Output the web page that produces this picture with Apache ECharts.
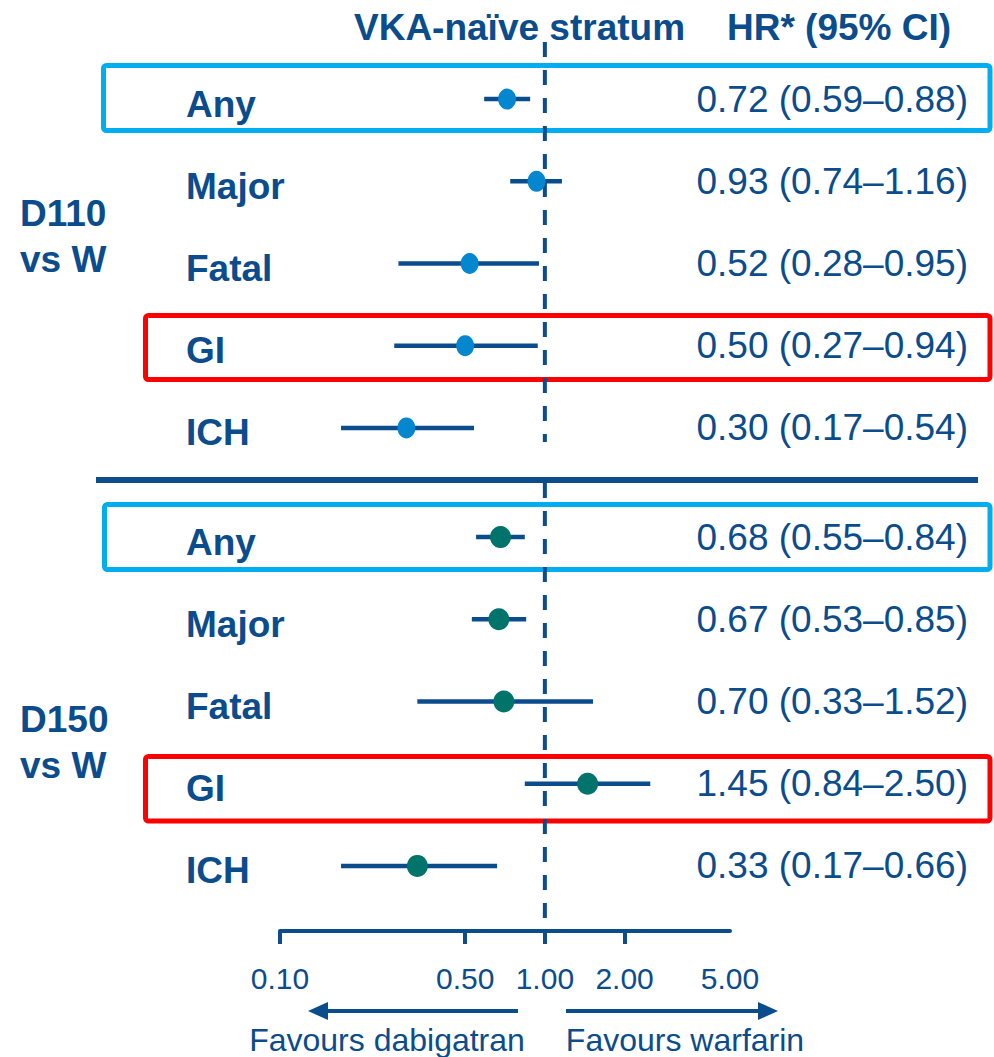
<!DOCTYPE html>
<html>
<head>
<meta charset="utf-8">
<script src="https://cdn.jsdelivr.net/npm/echarts@6/dist/echarts.min.js"></script>
<style>
html,body{margin:0;padding:0;background:#fff;}
#chart{width:994px;height:1057px;}
</style>
</head>
<body>
<div id="chart"></div>
<script>
// ---- data ----
const categories = ['Any', 'Major', 'Fatal', 'GI', 'ICH'];
const hrD110 = [0.72, 0.93, 0.52, 0.50, 0.30];
const loD110 = [0.59, 0.74, 0.28, 0.27, 0.17];
const hiD110 = [0.88, 1.16, 0.95, 0.94, 0.54];
const hrD150 = [0.68, 0.67, 0.70, 1.45, 0.33];
const loD150 = [0.55, 0.53, 0.33, 0.84, 0.17];
const hiD150 = [0.84, 0.85, 1.52, 2.50, 0.66];
const tickValues = [0.1, 0.5, 1, 2, 5];
const tickMarks = [0.1, 0.5, 1, 2];
const groupLabels = ['D110\nvs W', 'D150\nvs W'];
const headerLeft = 'VKA-naïve stratum';
const headerRight = 'HR* (95% CI)';
const favourLeft = 'Favours dabigatran';
const favourRight = 'Favours warfarin';

// ---- styling ----
const DARK = '#0B4C8C';
const BLUE = '#0487CF';
const TEAL = '#00746B';
const CYAN = '#00AEEF';
const RED = '#FF0000';
const FONT = '"Liberation Sans", Arial, sans-serif';

const fmt = (h, l, u) => h.toFixed(2) + ' (' + l.toFixed(2) + '\u2013' + u.toFixed(2) + ')';
const hrText110 = hrD110.map((v, i) => fmt(v, loD110[i], hiD110[i]));
const hrText150 = hrD150.map((v, i) => fmt(v, loD150[i], hiD150[i]));

const chart = echarts.init(document.getElementById('chart'), null, {renderer: 'svg'});

function ciItem(params, api) {
  const y = api.value(2);
  const a = api.coord([api.value(0), y]);
  const b = api.coord([api.value(1), y]);
  return {type: 'line', shape: {x1: a[0], y1: a[1], x2: b[0], y2: b[1]},
          style: {stroke: DARK, lineWidth: 4.5}};
}
function refItem(top, bottom) {
  return function (params, api) {
    const x = api.coord([api.value(0), 0])[0];
    const cs = params.coordSys;
    return {type: 'line', shape: {x1: x, y1: cs.y + top, x2: x, y2: cs.y + cs.height + bottom},
            style: {stroke: DARK, lineWidth: 4, lineDash: [15, 13]}};
  };
}

const leftLabel = {interval: 0, align: 'left', margin: 94, fontSize: 37, fontWeight: 'bold',
                   color: DARK, fontFamily: FONT, verticalAlign: 'top', lineHeight: 10};
const rightLabel = {interval: 0, align: 'right', margin: 238, fontSize: 37,
                    color: DARK, fontFamily: FONT};
const baseY = {type: 'category', inverse: true, axisLine: {show: false}, axisTick: {show: false}, splitLine: {show: false}};

const option = {
  backgroundColor: '#fff',
  animation: false,
  grid: [
    {left: 280, right: 264, top: 58, height: 411},
    {left: 280, right: 264, top: 496, height: 411}
  ],
  xAxis: [
    {gridIndex: 0, type: 'log', logBase: 10, min: 0.1, max: 5, show: false},
    {gridIndex: 1, type: 'log', logBase: 10, min: 0.1, max: 5, offset: 24,
     axisLine: {show: true, onZero: false, lineStyle: {color: DARK, width: 4}},
     axisTick: {show: true, customValues: tickMarks, length: 13, lineStyle: {color: DARK, width: 4}},
     axisLabel: {customValues: tickValues, formatter: v => Number(v).toFixed(2), fontSize: 30,
                 color: DARK, fontFamily: FONT, margin: 32},
     splitLine: {show: false}, minorTick: {show: false}}
  ],
  yAxis: [
    Object.assign({}, baseY, {gridIndex: 0, data: categories, axisLabel: leftLabel}),
    Object.assign({}, baseY, {gridIndex: 0, position: 'right', data: hrText110, axisLabel: rightLabel}),
    Object.assign({}, baseY, {gridIndex: 1, data: categories, axisLabel: leftLabel}),
    Object.assign({}, baseY, {gridIndex: 1, position: 'right', data: hrText150, axisLabel: rightLabel})
  ],
  series: [
    {type: 'custom', name: 'ref1', xAxisIndex: 0, yAxisIndex: 0, data: [[1, 0]], encode: {x: 0, y: 1},
     renderItem: refItem(-16, -27), z: 1, silent: true},
    {type: 'custom', name: 'ref2', xAxisIndex: 1, yAxisIndex: 2, data: [[1, 0]], encode: {x: 0, y: 1},
     renderItem: refItem(-13, 24), z: 1, silent: true},
    {type: 'custom', name: 'CI D110', xAxisIndex: 0, yAxisIndex: 0,
     data: categories.map((c, i) => [loD110[i], hiD110[i], i]), encode: {x: [0, 1], y: 2},
     renderItem: ciItem, z: 2},
    {type: 'custom', name: 'CI D150', xAxisIndex: 1, yAxisIndex: 2,
     data: categories.map((c, i) => [loD150[i], hiD150[i], i]), encode: {x: [0, 1], y: 2},
     renderItem: ciItem, z: 2},
    {type: 'scatter', name: 'D110 vs W', xAxisIndex: 0, yAxisIndex: 0,
     data: categories.map((c, i) => [hrD110[i], i]), symbol: 'circle', symbolSize: [18, 21],
     itemStyle: {color: BLUE, opacity: 1}, z: 3},
    {type: 'scatter', name: 'D150 vs W', xAxisIndex: 1, yAxisIndex: 2,
     data: categories.map((c, i) => [hrD150[i], i]), symbol: 'circle', symbolSize: [21, 22],
     itemStyle: {color: TEAL, opacity: 1}, z: 3}
  ],
  graphic: [
    {type: 'text', left: 354, top: 9, style: {text: headerLeft, font: 'bold 37px ' + FONT, fill: DARK}},
    {type: 'text', left: 727, top: 9, style: {text: headerRight, font: 'bold 37px ' + FONT, fill: DARK}},
    {type: 'text', x: 20, y: 236, style: {text: groupLabels[0], font: 'bold 37px ' + FONT, fill: DARK,
      lineHeight: 46, verticalAlign: 'middle', align: 'left'}},
    {type: 'text', x: 20, y: 742, style: {text: groupLabels[1], font: 'bold 37px ' + FONT, fill: DARK,
      lineHeight: 46, verticalAlign: 'middle', align: 'left'}},
    {type: 'rect', shape: {x: 103.5, y: 65.5, width: 886.5, height: 65, r: 3},
     style: {fill: 'none', stroke: CYAN, lineWidth: 5}},
    {type: 'rect', shape: {x: 145.5, y: 315.5, width: 844.5, height: 64, r: 3},
     style: {fill: 'none', stroke: RED, lineWidth: 5}},
    {type: 'rect', shape: {x: 104.5, y: 504.5, width: 885.5, height: 65, r: 3},
     style: {fill: 'none', stroke: CYAN, lineWidth: 5}},
    {type: 'rect', shape: {x: 145.5, y: 756.5, width: 844.5, height: 64.5, r: 3},
     style: {fill: 'none', stroke: RED, lineWidth: 5}},
    {type: 'line', shape: {x1: 96, y1: 480, x2: 978, y2: 480}, style: {stroke: DARK, lineWidth: 6}},
    {type: 'line', shape: {x1: 324, y1: 1011, x2: 518, y2: 1011}, style: {stroke: DARK, lineWidth: 4}},
    {type: 'polygon', shape: {points: [[308, 1011], [328, 1002], [328, 1020]]}, style: {fill: DARK}},
    {type: 'line', shape: {x1: 566, y1: 1011, x2: 762, y2: 1011}, style: {stroke: DARK, lineWidth: 4}},
    {type: 'polygon', shape: {points: [[778, 1011], [758, 1002], [758, 1020]]}, style: {fill: DARK}},
    {type: 'text', x: 387, y: 1040, style: {text: favourLeft, font: '32px ' + FONT, fill: DARK,
      align: 'center', verticalAlign: 'middle'}},
    {type: 'text', x: 685, y: 1040, style: {text: favourRight, font: '32px ' + FONT, fill: DARK,
      align: 'center', verticalAlign: 'middle'}}
  ]
};
chart.setOption(option);
</script>
</body>
</html>
